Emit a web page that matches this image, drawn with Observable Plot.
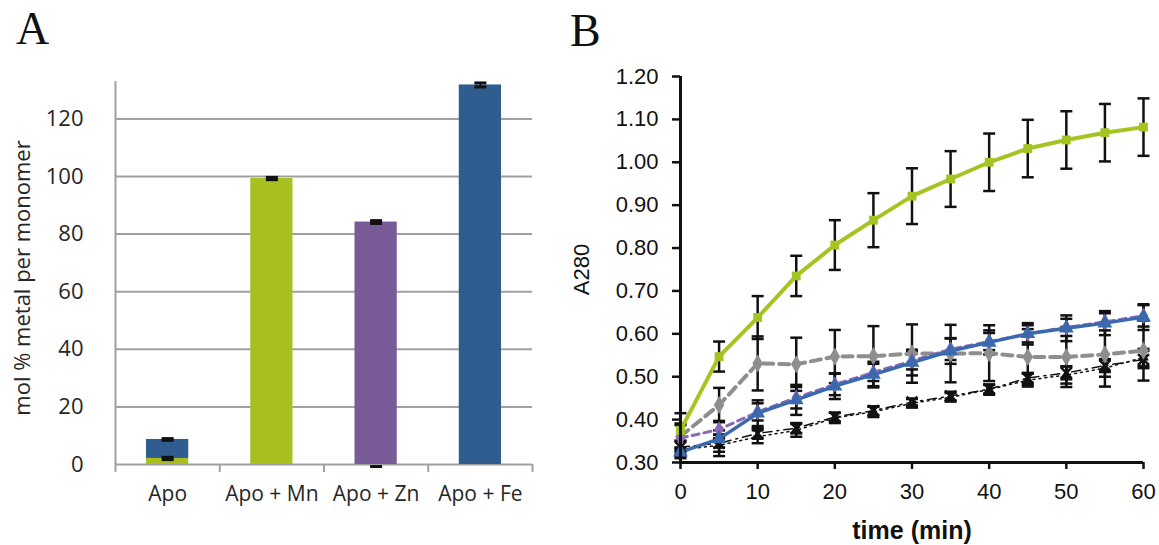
<!DOCTYPE html>
<html>
<head>
<meta charset="utf-8">
<script src="https://cdn.jsdelivr.net/npm/d3@7"></script>
<script src="https://cdn.jsdelivr.net/npm/@observablehq/plot@0.6"></script>
<style>
  html, body { margin: 0; padding: 0; background: #fff; }
  #wrap { position: relative; width: 1159px; height: 545px; overflow: hidden; background: #fff; }
  .panel { position: absolute; top: 0; }
  #panelA { left: 0; width: 560px; height: 545px; }
  #panelB { left: 560px; width: 599px; height: 545px; }
  .letter { position: absolute; font-family: "Liberation Serif", "DejaVu Serif", serif; font-size: 46px; line-height: 1; color: #111; }
</style>
</head>
<body>
<div id="wrap">
  <div class="panel" id="panelA"></div>
  <div class="panel" id="panelB"></div>
  <div class="letter" style="left:16px; top:6px;">A</div>
  <div class="letter" style="left:570px; top:8px;">B</div>
</div>
<script>
// ---------- Panel A data ----------
const categories = ["Apo", "Apo + Mn", "Apo + Zn", "Apo + Fe"];
const metals = ["Mn", "Zn", "Fe"];
const mnPercent = [2.1, 99.3, 0, 0];
const znPercent = [0, 0, 84.2, 0];
const fePercent = [6.6, 0, 0, 131.8];
const mnError = [0.4, 0.4, 0.7, 0];
const znError = [0, 0, 0.5, 0];
const feError = [0.3, 0, 0, 0.7];
const yTicksA = [0, 20, 40, 60, 80, 100, 120];

// ---------- Panel B data ----------
const timeMin = [0, 5, 10, 15, 20, 25, 30, 35, 40, 45, 50, 55, 60];
const greenA280 = [0.375, 0.547, 0.638, 0.735, 0.807, 0.865, 0.921, 0.961, 1.000, 1.032, 1.052, 1.069, 1.082];
const greenErr  = [0.040, 0.035, 0.050, 0.047, 0.058, 0.063, 0.065, 0.065, 0.067, 0.067, 0.067, 0.067, 0.067];
const grayA280  = [0.361, 0.434, 0.531, 0.529, 0.547, 0.548, 0.554, 0.554, 0.555, 0.546, 0.546, 0.552, 0.561];
const grayErr   = [0.030, 0.040, 0.063, 0.062, 0.062, 0.070, 0.068, 0.067, 0.065, 0.065, 0.070, 0.075, 0.070];
const purpleA280 = [0.357, 0.377, 0.418, 0.451, 0.482, 0.510, 0.537, 0.564, 0.582, 0.600, 0.615, 0.628, 0.642];
const purpleErr  = [0.030, 0.020, 0.020, 0.025, 0.025, 0.020, 0.020, 0.025, 0.020, 0.020, 0.020, 0.020, 0.025];
const blueA280  = [0.324, 0.355, 0.415, 0.446, 0.478, 0.505, 0.533, 0.560, 0.580, 0.600, 0.613, 0.625, 0.639];
const blueErr   = [0.010, 0.020, 0.030, 0.035, 0.030, 0.030, 0.030, 0.030, 0.028, 0.025, 0.030, 0.028, 0.030];
const blackXA280 = [0.336, 0.345, 0.368, 0.380, 0.406, 0.421, 0.441, 0.455, 0.471, 0.497, 0.509, 0.526, 0.540];
const blackXErr  = [0.015, 0.020, 0.012, 0.012, 0.010, 0.010, 0.008, 0.010, 0.010, 0.012, 0.015, 0.015, 0.020];
const blackTA280 = [0.330, 0.340, 0.360, 0.375, 0.404, 0.418, 0.438, 0.452, 0.470, 0.492, 0.504, 0.520, 0.545];
const blackTErr  = [0.020, 0.025, 0.015, 0.015, 0.012, 0.012, 0.010, 0.010, 0.012, 0.015, 0.020, 0.020, 0.020];
const yTicksB = [0.30, 0.40, 0.50, 0.60, 0.70, 0.80, 0.90, 1.00, 1.10, 1.20];
const xTicksB = [0, 10, 20, 30, 40, 50, 60];

// cap symbol (horizontal line) for error bars
const capSymbol = {
  draw(context, size) {
    const w = Math.sqrt(size / Math.PI);
    context.moveTo(-w, 0);
    context.lineTo(w, 0);
  }
};

// ---------- Panel A ----------
const metalColor = {Mn: "#a8bf1f", Zn: "#7a5b99", Fe: "#305d8f"};
const metalValues = {Mn: mnPercent, Zn: znPercent, Fe: fePercent};
const metalErrors = {Mn: mnError, Zn: znError, Fe: feError};
const segs = [];
const errs = [];
categories.forEach((c, i) => {
  let cum = 0;
  metals.forEach(m => {
    const v = metalValues[m][i];
    const e = metalErrors[m][i];
    if (v > 0) segs.push({i, metal: m, y1: cum, y2: cum + v});
    if (e > 0) errs.push({xc: i + 0.5, top: cum + v, err: e, zero: v === 0});
    cum += v;
  });
});
const capRows = errs.flatMap(d => [{xc: d.xc, y: d.top - d.err, zero: d.zero}, {xc: d.xc, y: d.top + d.err, zero: d.zero}]);
const gridGray = "#a0a0a0";

const plotA = Plot.plot({
  width: 560, height: 545,
  marginLeft: 115, marginRight: 28, marginTop: 81, marginBottom: 81,
  x: {domain: [0, 4], label: null},
  y: {domain: [0, 133], label: null},
  style: {fontFamily: "'Open Sans', 'Noto Sans', sans-serif", fontSize: "21px", color: "#262626", background: "transparent"},
  marks: [
    Plot.ruleY(yTicksA, {stroke: gridGray, strokeWidth: 2}),
    Plot.ruleX([0], {stroke: gridGray, strokeWidth: 2}),
    Plot.axisX({ticks: [0, 1, 2, 3, 4], tickSize: 8, tickFormat: () => "", stroke: gridGray, strokeWidth: 2, label: null}),
    Plot.axisX({ticks: [0.5, 1.5, 2.5, 3.5], tickSize: 0, tickPadding: 22, tickFormat: v => categories[Math.floor(v)], fontSize: 21, label: null}),
    Plot.axisY({ticks: yTicksA, tickSize: 0, tickPadding: 32, fontSize: 22, label: null}),
    Plot.text(["mol % metal per monomer"], {frameAnchor: "left", textAnchor: "middle", lineAnchor: "middle", rotate: -90, dx: -93, dy: 5, fontSize: 22, fill: "#262626"}),
    // zero-valued segment error drawn beneath bars
    Plot.dot(capRows.filter(d => d.zero), {x: "xc", y: "y", symbol: capSymbol, r: 6, stroke: "#111", strokeWidth: 3}),
    Plot.rectY(segs, {x1: d => d.i, x2: d => d.i + 1, y1: "y1", y2: "y2", fill: d => metalColor[d.metal], insetLeft: 31, insetRight: 31}),
    Plot.ruleX(errs.filter(d => !d.zero), {x: "xc", y1: d => d.top - d.err, y2: d => d.top + d.err, stroke: "#111", strokeWidth: 1.5}),
    Plot.dot(capRows.filter(d => !d.zero), {x: "xc", y: "y", symbol: capSymbol, r: 6, stroke: "#111", strokeWidth: 3})
  ]
});
document.getElementById("panelA").appendChild(plotA);

// ---------- Panel B ----------
const seriesB = [
  {name: "blackT", values: blackTA280, err: blackTErr, color: "#111", width: 1.5, dash: "2,4", symbol: "triangle", r: 4, fill: "#111", stroke: "none", sw: 0},
  {name: "blackX", values: blackXA280, err: blackXErr, color: "#111", width: 1.5, dash: "9,5,2,5", symbol: "times", r: 5, fill: "none", stroke: "#111", sw: 2.5},
  {name: "gray", values: grayA280, err: grayErr, color: "#8e8e8e", width: 4, dash: "10,6", symbol: "diamond", r: 5.5, fill: "#8e8e8e", stroke: "none", sw: 0},
  {name: "purple", values: purpleA280, err: purpleErr, color: "#8a69b5", width: 3, dash: "7,5", symbol: "diamond", r: 5, fill: "#8a69b5", stroke: "none", sw: 0},
  {name: "blue", values: blueA280, err: blueErr, color: "#3a69ad", width: 3.5, dash: null, symbol: "triangle", r: 5.5, fill: "#3a69ad", stroke: "none", sw: 0},
  {name: "green", values: greenA280, err: greenErr, color: "#a3c421", width: 4, dash: null, symbol: "square", r: 5, fill: "#a3c421", stroke: "none", sw: 0}
];
const rowsB = seriesB.flatMap(s => timeMin.map((t, k) => ({series: s.name, t, v: s.values[k], e: s.err[k]})));
const capsB = rowsB.flatMap(d => [{t: d.t, y: d.v - d.e}, {t: d.t, y: d.v + d.e}]);

const marksB = [
  Plot.ruleX(rowsB, {x: "t", y1: d => d.v - d.e, y2: d => d.v + d.e, stroke: "#111", strokeWidth: 2.5}),
  Plot.dot(capsB, {x: "t", y: "y", symbol: capSymbol, r: 6, stroke: "#111", strokeWidth: 2.5})
];
seriesB.forEach(s => {
  const rows = rowsB.filter(d => d.series === s.name);
  marksB.push(Plot.line(rows, {x: "t", y: "v", stroke: s.color, strokeWidth: s.width, strokeDasharray: s.dash || undefined}));
});
seriesB.forEach(s => {
  const rows = rowsB.filter(d => d.series === s.name);
  marksB.push(Plot.dot(rows, {x: "t", y: "v", symbol: s.symbol, r: s.r, fill: s.fill, stroke: s.stroke, strokeWidth: s.sw}));
});

const plotB = Plot.plot({
  width: 599, height: 545,
  marginLeft: 120, marginRight: 16, marginTop: 76, marginBottom: 83,
  x: {domain: [0, 60], label: null},
  y: {domain: [0.30, 1.20], label: null},
  style: {fontFamily: "'Liberation Sans', Arial, sans-serif", fontSize: "22px", color: "#111", background: "transparent"},
  marks: [
    Plot.axisY({ticks: yTicksB, tickFormat: d3.format(".2f"), tickSize: 8, tickPadding: 14, strokeWidth: 2.5, stroke: "#111", fontSize: 22, label: null}),
    Plot.axisX({ticks: xTicksB, tickSize: 7, tickPadding: 14, strokeWidth: 2.5, stroke: "#111", fontSize: 22, label: null}),
    Plot.text(["A280"], {frameAnchor: "left", textAnchor: "middle", lineAnchor: "middle", rotate: -90, dx: -99, dy: 0, fontSize: 22, fill: "#111"}),
    Plot.text(["time (min)"], {frameAnchor: "bottom", lineAnchor: "middle", dy: 68, fontSize: 25, fontWeight: "bold", fill: "#111"}),
    ...marksB,
    Plot.ruleX([0], {stroke: "#111", strokeWidth: 3}),
    Plot.ruleY([0.30], {stroke: "#111", strokeWidth: 3})
  ]
});
document.getElementById("panelB").appendChild(plotB);
</script>
</body>
</html>
